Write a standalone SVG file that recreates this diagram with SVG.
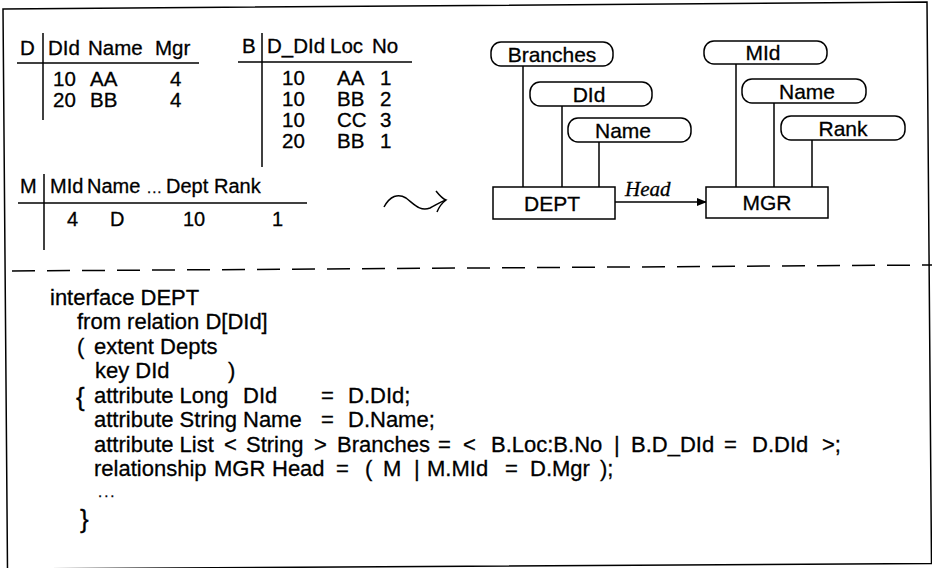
<svg xmlns="http://www.w3.org/2000/svg" width="932" height="568" viewBox="0 0 932 568">
<style>
text{font-family:"Liberation Sans",Arial,sans-serif;font-size:20.5px;fill:#000;stroke:#000;stroke-width:0.3}
.c{text-anchor:middle}
.d{font-size:21px}
.k{font-size:22px}
.m{font-size:20px}
.ln{stroke:#000;stroke-width:1.5;fill:none}
.box{fill:#fff;stroke:#000;stroke-width:1.5}
.it{font-family:"Liberation Serif",serif;font-style:italic;font-size:21px}
</style>
<defs>
<marker id="ah" markerWidth="10" markerHeight="8" refX="9" refY="4" orient="auto" markerUnits="userSpaceOnUse"><path d="M0,0 L10,4 L0,8 z" fill="#000"/></marker>
</defs>
<polygon points="3,9 927,2 931.5,563.5 7.5,569" class="ln"/>
<line x1="12" y1="271" x2="932" y2="265" class="ln" stroke-dasharray="23 12"/>
<g id="table-D">
<text x="20" y="55">D</text>
<line x1="43" y1="33" x2="43" y2="120" class="ln"/>
<text x="48" y="55">DId</text><text x="88" y="55">Name</text><text x="155" y="55">Mgr</text>
<line x1="17" y1="63" x2="199" y2="63" class="ln"/>
<text x="53" y="86">10</text><text x="90" y="86">AA</text><text x="170" y="86">4</text>
<text x="53" y="107">20</text><text x="90" y="107">BB</text><text x="170" y="107">4</text>
</g>
<g id="table-B">
<text x="242" y="53">B</text>
<line x1="262" y1="33" x2="262" y2="167" class="ln"/>
<text x="267" y="53">D_DId</text><text x="330" y="53">Loc</text><text x="372" y="53">No</text>
<line x1="238" y1="62" x2="412" y2="62" class="ln"/>
<text x="282" y="85">10</text><text x="337" y="85">AA</text><text x="380" y="85">1</text>
<text x="282" y="106">10</text><text x="337" y="106">BB</text><text x="380" y="106">2</text>
<text x="282" y="127">10</text><text x="337" y="127">CC</text><text x="380" y="127">3</text>
<text x="282" y="148">20</text><text x="337" y="148">BB</text><text x="380" y="148">1</text>
</g>
<g id="table-M">
<text class="m" x="20" y="193">M</text>
<line x1="44" y1="174" x2="44" y2="250" class="ln"/>
<text class="m" x="50" y="193">MId</text><text class="m" x="87" y="193">Name</text><text x="147" y="193" style="font-size:15px;letter-spacing:1px">...</text><text class="m" x="166" y="193">Dept</text><text class="m" x="214" y="193">Rank</text>
<line x1="18" y1="203" x2="307" y2="203" class="ln"/>
<text class="m" x="67" y="226">4</text><text class="m" x="110" y="226">D</text><text class="m" x="183" y="226">10</text><text class="m" x="272" y="226">1</text>
</g>
<g id="connectors">
<path d="M384,207 C390,196 398,193 406,198 C414,204 420,212 430,208 C436,205 440,202 446,200" class="ln" stroke-width="1.8"/>
<path d="M436,191 C440,196 443,199 446,200 C442,203 439,207 437,212" class="ln" stroke-width="1.8"/>
<line x1="523" y1="66" x2="523" y2="187" class="ln"/>
<line x1="562" y1="106" x2="562" y2="187" class="ln"/>
<line x1="599" y1="142" x2="599" y2="187" class="ln"/>
<line x1="736" y1="64" x2="736" y2="187" class="ln"/>
<line x1="774" y1="103" x2="774" y2="187" class="ln"/>
<line x1="812" y1="140" x2="812" y2="187" class="ln"/>
<line x1="615" y1="202" x2="706" y2="202" class="ln" marker-end="url(#ah)"/>
<text x="625" y="196" class="it">Head</text>
</g>
<g id="attr-Branches"><rect x="491" y="42" width="122" height="24" rx="10" class="box"/><text x="552" y="61.5" class="c d">Branches</text></g>
<g id="attr-DId"><rect x="530" y="82" width="122" height="24" rx="10" class="box"/><text x="589" y="101.5" class="c d">DId</text></g>
<g id="attr-DName"><rect x="568" y="118" width="123" height="24" rx="10" class="box"/><text x="623" y="137.5" class="c d">Name</text></g>
<g id="attr-MId"><rect x="704" y="41" width="123" height="23" rx="10" class="box"/><text x="763" y="60" class="c d">MId</text></g>
<g id="attr-MName"><rect x="742" y="79" width="124" height="24" rx="10" class="box"/><text x="807" y="98.5" class="c d">Name</text></g>
<g id="attr-Rank"><rect x="781" y="116" width="124" height="24" rx="10" class="box"/><text x="843" y="135.5" class="c d">Rank</text></g>
<g id="DEPT"><rect x="493" y="187" width="122" height="32" class="box"/><text x="552" y="210.5" class="c d">DEPT</text></g>
<g id="MGR"><rect x="706" y="187" width="122" height="31" class="box"/><text x="767" y="210" class="c d">MGR</text></g>
<g id="code">
<text class="k" x="50" y="305">interface DEPT</text>
<text class="k" x="77" y="329">from relation D[DId]</text>
<text class="k" x="77" y="354">(</text><text class="k" x="94" y="354">extent Depts</text>
<text class="k" x="95" y="378">key DId</text><text class="k" x="228" y="378">)</text>
<text x="76" y="406" style="font-size:26px">{</text>
<text class="k" y="403"><tspan x="94">attribute Long</tspan><tspan x="243">DId</tspan><tspan x="321">=</tspan><tspan x="348">D.DId;</tspan></text>
<text class="k" y="427"><tspan x="94">attribute String</tspan><tspan x="243">Name</tspan><tspan x="321">=</tspan><tspan x="348">D.Name;</tspan></text>
<text class="k" y="452"><tspan x="94">attribute List</tspan><tspan x="224">&lt;</tspan><tspan x="246">String</tspan><tspan x="314">&gt;</tspan><tspan x="337">Branches</tspan><tspan x="438">=</tspan><tspan x="463">&lt;</tspan><tspan x="491">B.Loc:B.No</tspan><tspan x="614">|</tspan><tspan x="631">B.D_DId</tspan><tspan x="724">=</tspan><tspan x="752">D.DId</tspan><tspan x="822">&gt;;</tspan></text>
<text class="k" y="476"><tspan x="94">relationship</tspan><tspan x="214">MGR</tspan><tspan x="272">Head</tspan><tspan x="336">=</tspan><tspan x="365">(</tspan><tspan x="383">M</tspan><tspan x="414">|</tspan><tspan x="427">M.MId</tspan><tspan x="505">=</tspan><tspan x="530">D.Mgr</tspan><tspan x="600">);</tspan></text>
<text x="98" y="497" style="font-size:15px;letter-spacing:2px">...</text>
<text x="80" y="528" style="font-size:26px">}</text>
</g>
</svg>
